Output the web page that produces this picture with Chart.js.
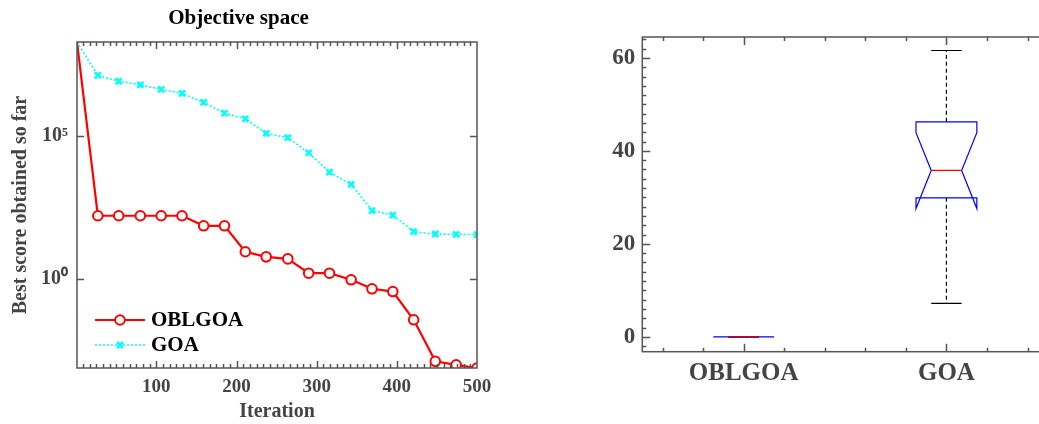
<!DOCTYPE html>
<html><head><meta charset="utf-8">
<script src="https://cdn.jsdelivr.net/npm/chart.js@4.4.0/dist/chart.umd.min.js"></script>
<style>
html,body{margin:0;padding:0;background:#fff;overflow:hidden;width:1039px;height:424px;}
#left{position:absolute;left:0;top:0;width:520px;height:424px;}
#right{position:absolute;left:560px;top:0;width:500px;height:424px;}
</style></head><body>
<div id="left"><canvas id="c1"></canvas></div>
<div id="right"><canvas id="c2"></canvas></div>
<script>
// ---------- data: convergence curves ----------
const iterations = [1, 27, 53, 80, 106, 132, 159, 185, 211, 237, 264, 290, 316, 343, 369, 395, 421, 448, 474, 500];
const oblgoaScores = [1.95e8, 162, 162, 162, 162, 162, 72, 72, 8.9, 5.9, 5.0, 1.58, 1.58, 0.93, 0.45, 0.36, 0.037, 0.0013, 0.00098, 0.00076];
const goaScores = [1.95e8, 1.32e7, 8.3e6, 6.2e6, 4.3e6, 3.1e6, 1.51e6, 6.3e5, 4.0e5, 1.23e5, 8.7e4, 2.57e4, 5.4e3, 2.04e3, 245, 170, 44.7, 37.2, 36.3, 35.5];
const seriesNames = ['OBLGOA', 'GOA'];
const iterTicks = [100, 200, 300, 400, 500];
const scoreTickValues = [1, 1e5];
const scoreTickLabels = ['10\u2070', '10\u2075'];

// ---------- data: box plot ----------
const boxCategories = ['OBLGOA', 'GOA'];
const boxLowerWhisker = [0, 7.2];
const boxQ1 = [0, 29.9];
const boxMedian = [0, 35.8];
const boxQ3 = [0, 46.25];
const boxUpperWhisker = [0, 61.6];
const boxNotchLow = [0, 27.6];
const boxNotchHigh = [0, 43.9];
const boxYTicks = [0, 20, 40, 60];

const SERIF = "'Liberation Serif','Times New Roman',serif";
Chart.defaults.font.family = SERIF;
Chart.defaults.font.weight = 'bold';
Chart.defaults.animation = false;
Chart.defaults.events = [];

function range(a, b, s) { const r = []; for (let v = a; v <= b + 1e-9; v += s) r.push(v); return r; }

const noGrid = {display: false, drawTicks: false, tickLength: 0};

const framePlugin = {
  id: 'matlabFrame',
  afterDraw(chart, args, o) {
    const {ctx, chartArea: a} = chart;
    const xs = chart.scales.x, ys = chart.scales.y;
    ctx.save();
    ctx.strokeStyle = o.color; ctx.lineWidth = o.lineWidth;
    ctx.beginPath();
    const vx = (list, len) => list.forEach(v => {
      const p = Math.round(xs.getPixelForValue(v)) + 0.5;
      if (p < a.left + 2 || p > a.right - 2) return;
      ctx.moveTo(p, a.top); ctx.lineTo(p, a.top + len);
      ctx.moveTo(p, a.bottom); ctx.lineTo(p, a.bottom - len);
    });
    const vy = (list, len) => list.forEach(v => {
      const p = Math.round(ys.getPixelForValue(v)) + 0.5;
      if (p < a.top + 2 || p > a.bottom - 2) return;
      ctx.moveTo(a.left, p); ctx.lineTo(a.left + len, p);
      ctx.moveTo(a.right, p); ctx.lineTo(a.right - len, p);
    });
    vx(o.xMinor, o.minorLen); vx(o.xMajor, o.majorLen);
    vy(o.yMinor, o.minorLen); vy(o.yMajor, o.majorLen);
    ctx.stroke();
    ctx.strokeRect(a.left, a.top, a.right - a.left, a.bottom - a.top);
    ctx.restore();
  }
};

const legendPlugin = {
  id: 'innerLegend',
  afterDraw(chart, args, o) {
    if (!o.show) return;
    const ctx = chart.ctx;
    ctx.save();
    chart.data.datasets.forEach((ds, i) => {
      const y = o.y0 + i * o.dy;
      ctx.strokeStyle = ds.borderColor; ctx.lineWidth = ds.borderWidth;
      ctx.setLineDash(ds.borderDash || []);
      ctx.beginPath(); ctx.moveTo(o.x0, y); ctx.lineTo(o.x1, y); ctx.stroke();
      ctx.setLineDash([]);
      ctx.fillStyle = ds.pointBackgroundColor; ctx.strokeStyle = ds.borderColor;
      ctx.lineWidth = ds.pointBorderWidth;
      Chart.helpers.drawPoint(ctx, {pointStyle: ds.pointStyle, radius: ds.legendRadius, borderWidth: ds.pointBorderWidth, rotation: 0}, (o.x0 + o.x1) / 2, y);
      ctx.fillStyle = '#000'; ctx.font = 'bold 21px ' + SERIF;
      ctx.textBaseline = 'middle'; ctx.textAlign = 'left';
      ctx.fillText(ds.label, o.tx, y + 1);
    });
    ctx.restore();
  }
};

const pts = (ys) => iterations.map((x, i) => ({x, y: ys[i]}));

new Chart(document.getElementById('c1'), {
  type: 'scatter',
  data: {
    datasets: [
      {label: seriesNames[0], data: pts(oblgoaScores), showLine: true, borderColor: '#ff0000', borderWidth: 2.2,
       pointStyle: 'circle', pointRadius: ctx => ctx.dataIndex === 0 ? 0 : 4.8, legendRadius: 4.8,
       pointBorderWidth: 2, pointBackgroundColor: '#ffffff', pointBorderColor: '#ff0000', order: 0},
      {label: seriesNames[1], data: pts(goaScores), showLine: true, borderColor: '#00ffff', borderWidth: 1.6, borderDash: [2, 2],
       pointStyle: 'crossRot', pointRadius: ctx => ctx.dataIndex === 0 ? 0 : 4.2, legendRadius: 4.2,
       pointBorderWidth: 2.6, pointBackgroundColor: '#00ffff', pointBorderColor: '#00ffff', order: 1}
    ]
  },
  options: {
    responsive: true, maintainAspectRatio: false,
    layout: {padding: {left: 0, right: 43, top: 0, bottom: 0}},
    plugins: {
      legend: {display: false}, tooltip: {enabled: false},
      title: {display: true, text: 'Objective space', color: '#000', font: {size: 21, weight: 'bold'}, padding: {top: 6, bottom: 10.8}},
      matlabFrame: {color: '#555', lineWidth: 1.5, minorLen: 4, majorLen: 7,
        xMinor: range(0, 500, 100 / 12), xMajor: iterTicks, yMinor: [], yMajor: scoreTickValues},
      innerLegend: {show: true, x0: 95, x1: 145, y0: 320, dy: 25, tx: 151}
    },
    scales: {
      x: {type: 'linear', min: 1, max: 500,
        afterBuildTicks: s => { s.ticks = iterTicks.map(v => ({value: v})); },
        afterFit: s => { s.height = 56; },
        grid: noGrid, border: {display: false},
        ticks: {color: '#444', font: {size: 19}, padding: 8, maxRotation: 0, callback: v => String(v)},
        title: {display: true, text: 'Iteration', color: '#444', font: {size: 20}, padding: {top: 0, bottom: 0}}},
      y: {type: 'logarithmic', min: 7.6e-4, max: 1.95e8,
        afterBuildTicks: s => { s.ticks = scoreTickValues.map(v => ({value: v})); },
        afterFit: s => { s.width = 77; },
        grid: noGrid, border: {display: false},
        ticks: {color: '#444', font: {size: 20}, padding: 9,
          callback: v => { const i = scoreTickValues.indexOf(v); return i >= 0 ? scoreTickLabels[i] : ''; }},
        title: {display: true, text: 'Best score obtained so far', color: '#444', font: {size: 20}, padding: {top: 9, bottom: 0}}}
    }
  },
  plugins: [framePlugin, legendPlugin]
});

// ---------- box plot built from the stats arrays ----------
const boxHalf = 0.15, notchHalf = 0.075;
const boxDatasets = [];
boxCategories.forEach((name, i) => {
  const c = i + 1;
  const line = (data, color, order, dash) => ({label: name, data, showLine: true, borderColor: color, borderWidth: 1.2,
    borderDash: dash || [], pointRadius: 0, fill: false, order});
  boxDatasets.push(line([{x: c, y: boxQ3[i]}, {x: c, y: boxUpperWhisker[i]}], '#000', 3, [4, 3]));
  boxDatasets.push(line([{x: c, y: boxQ1[i]}, {x: c, y: boxLowerWhisker[i]}], '#000', 3, [4, 3]));
  boxDatasets.push(line([{x: c - notchHalf, y: boxUpperWhisker[i]}, {x: c + notchHalf, y: boxUpperWhisker[i]}], '#000', 2));
  boxDatasets.push(line([{x: c - notchHalf, y: boxLowerWhisker[i]}, {x: c + notchHalf, y: boxLowerWhisker[i]}], '#000', 2));
  boxDatasets.push(line([
    {x: c - notchHalf, y: boxMedian[i]}, {x: c - boxHalf, y: boxNotchLow[i]}, {x: c - boxHalf, y: boxQ1[i]},
    {x: c + boxHalf, y: boxQ1[i]}, {x: c + boxHalf, y: boxNotchLow[i]}, {x: c + notchHalf, y: boxMedian[i]},
    {x: c + boxHalf, y: boxNotchHigh[i]}, {x: c + boxHalf, y: boxQ3[i]}, {x: c - boxHalf, y: boxQ3[i]},
    {x: c - boxHalf, y: boxNotchHigh[i]}, {x: c - notchHalf, y: boxMedian[i]}], '#0000ff', 1));
  boxDatasets.push(line([{x: c - notchHalf, y: boxMedian[i]}, {x: c + notchHalf, y: boxMedian[i]}], '#ff0000', 0));
});

new Chart(document.getElementById('c2'), {
  type: 'scatter',
  data: {datasets: boxDatasets},
  options: {
    responsive: true, maintainAspectRatio: false,
    layout: {padding: {left: 0, right: 12.2, top: 37, bottom: 0}},
    plugins: {
      legend: {display: false}, tooltip: {enabled: false},
      matlabFrame: {color: '#555', lineWidth: 1.5, minorLen: 4, majorLen: 8,
        xMinor: range(0.4, 2.6, 0.2), xMajor: [1, 2], yMinor: range(-2, 64, 2), yMajor: boxYTicks},
      innerLegend: {show: false}
    },
    scales: {
      x: {type: 'linear', min: 0.5, max: 2.5,
        afterBuildTicks: s => { s.ticks = boxCategories.map((n, i) => ({value: i + 1})); },
        afterFit: s => { s.height = 72.3; },
        grid: noGrid, border: {display: false},
        ticks: {color: '#444', font: {size: 25}, padding: 7, maxRotation: 0,
          callback: v => boxCategories[Math.round(v) - 1] || ''}},
      y: {type: 'linear', min: -3.2, max: 64.5,
        afterBuildTicks: s => { s.ticks = boxYTicks.map(v => ({value: v})); },
        afterFit: s => { s.width = 82.3; },
        grid: noGrid, border: {display: false},
        ticks: {color: '#444', font: {size: 23}, padding: 7, callback: v => String(v)}}
    }
  },
  plugins: [framePlugin, legendPlugin]
});
</script>
</body></html>
